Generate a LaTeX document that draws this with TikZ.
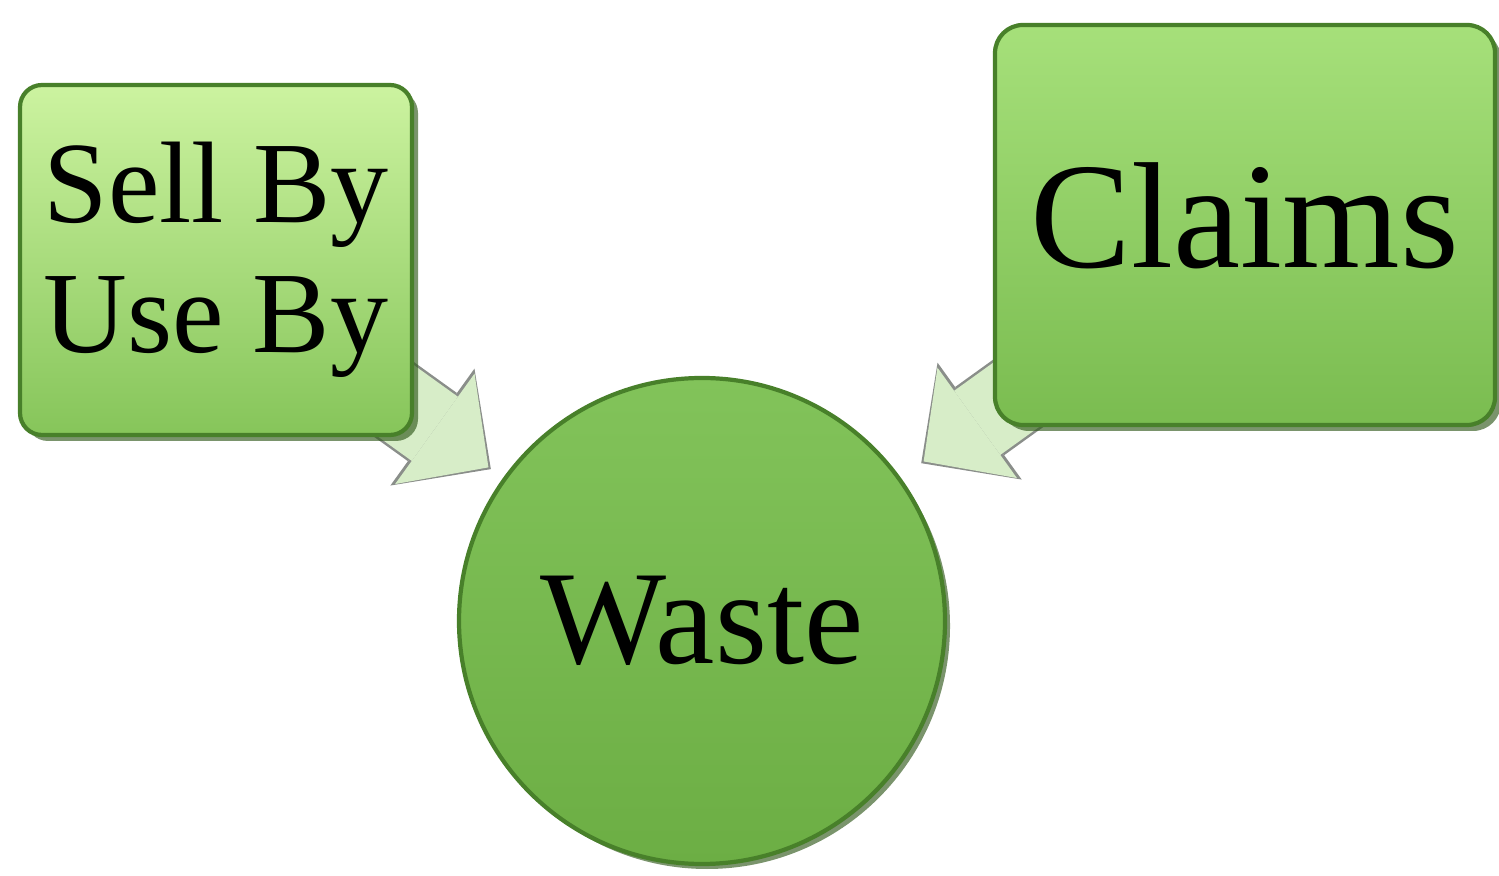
\documentclass[tikz,border=0pt]{standalone}
\usepackage{fontspec}
\setmainfont{Liberation Serif}
\usetikzlibrary{arrows.meta}
\usetikzlibrary{shadows}
\usetikzlibrary{backgrounds}
\definecolor{selltop}{RGB}{204,243,160}
\definecolor{sellbottom}{RGB}{134,197,90}
\definecolor{claimstop}{RGB}{166,224,122}
\definecolor{claimsbottom}{RGB}{122,188,80}
\definecolor{wastetop}{RGB}{130,195,90}
\definecolor{wastebottom}{RGB}{108,174,68}
\definecolor{rim}{RGB}{72,128,42}
\definecolor{arrowfill}{RGB}{215,237,200}
\definecolor{arrowline}{RGB}{138,142,138}
\tikzset{
	greenbox/.style={draw=rim, line width=1.2pt, rounded corners=0.22cm, align=center, inner sep=0pt,
		drop shadow={shadow xshift=0.06cm, shadow yshift=-0.06cm, fill=rim!70!black, opacity=0.65}},
	arrowedge/.style={line width=0.84cm, draw=arrowline, -{Triangle[length=0.72cm, width=1.44cm, line width=0pt]}},
	arrowbody/.style={line width=0.79cm, draw=arrowfill, -{Triangle[length=0.66cm, width=1.36cm, line width=0pt]}}
}

\begin{document}
\begin{tikzpicture}
	\useasboundingbox (0,0) rectangle (14.99,-8.76);
	
	% top left
	\node[greenbox, top color=selltop, bottom color=sellbottom, minimum width=3.92cm, minimum height=3.5cm,
		font=\fontsize{33}{37}\selectfont] (sellby) at (2.16,-2.6) {Sell By\\Use By};
	
	% top right
	\node[greenbox, top color=claimstop, bottom color=claimsbottom, minimum width=5cm, minimum height=4cm,
		rounded corners=0.28cm, text depth=0.2cm, font=\fontsize{43}{48}\selectfont] (claims) at (12.45,-2.25) {Claims};
	
	% centre
	\node[circle, draw=rim, line width=1.2pt, top color=wastetop, bottom color=wastebottom, minimum size=4.86cm,
		drop shadow={shadow xshift=0.05cm, shadow yshift=-0.05cm, fill=rim!70!black, opacity=0.65},
		font=\fontsize{38}{42}\selectfont] (waste) at (7.02,-6.21) {Waste};
	
	% arrows, tails hidden behind the boxes
	\coordinate (sellout) at (3.85,-3.93);
	\coordinate (claimsout) at (10.27,-3.87);
	\begin{scope}[on background layer]
		\draw[arrowedge, shorten >=0.15cm] (sellout) -- (waste);
		\draw[arrowbody, shorten >=0.18cm] (sellout) -- (waste);
		\draw[arrowedge, shorten >=0.25cm] (claimsout) -- (waste);
		\draw[arrowbody, shorten >=0.28cm] (claimsout) -- (waste);
	\end{scope}
	
\end{tikzpicture}
\end{document}
